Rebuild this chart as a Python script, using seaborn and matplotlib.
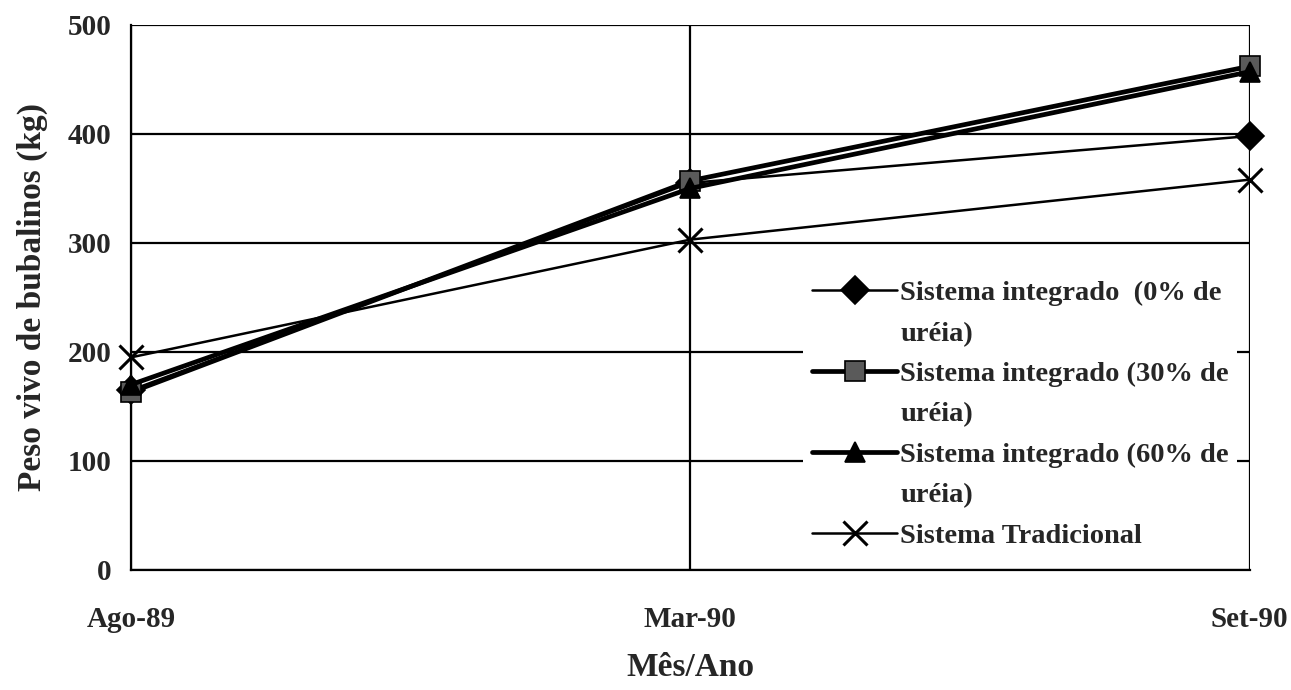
import matplotlib
matplotlib.use("Agg")
import matplotlib.pyplot as plt
from matplotlib.lines import Line2D
import seaborn as sns
import pandas as pd

sns.set_theme(style="white")
plt.rcParams['font.family'] = ['Liberation Serif', 'DejaVu Serif']
plt.rcParams['font.weight'] = 'bold'

meses = ["Ago-89", "Mar-90", "Set-90"]
integrado_0 = [165, 355, 398]
integrado_30 = [163, 357, 462]
integrado_60 = [170, 350, 457]
tradicional = [195, 303, 358]

# (first legend line, continuation line, values, marker, face colour, line width, marker size)
series = [
    ("Sistema integrado  (0% de", "uréia)", integrado_0, "D", "black", 1.8, 14),
    ("Sistema integrado (30% de", "uréia)", integrado_30, "s", "#5a5a5a", 3.4, 15),
    ("Sistema integrado (60% de", "uréia)", integrado_60, "^", "black", 3.4, 15),
    ("Sistema Tradicional", None, tradicional, "x", "black", 1.8, 17),
]

fig = plt.figure(figsize=(12.91, 6.90), dpi=100)
ax = fig.add_axes([0.1015, 0.174, 0.8665, 0.790])

for first, _, vals, mk, fc, lw, ms in series:
    df = pd.DataFrame({"x": range(len(meses)), "y": vals})
    sns.lineplot(data=df, x="x", y="y", ax=ax, color="black", linewidth=lw,
                 marker=mk, markersize=ms, markerfacecolor=fc,
                 markeredgecolor="black", markeredgewidth=2.2 if mk == "x" else 1.2,
                 label=first, zorder=3)

# markers sit on the plot edges; keep them whole
for line in ax.lines:
    line.set_clip_on(False)

ax.set_xlim(0, len(meses) - 1)
ax.set_ylim(0, 500)
ax.set_yticks(range(0, 501, 100))
ax.set_xticks(range(len(meses)))
ax.set_xticklabels(meses)

ax.grid(True, color="black", linewidth=1.6)
for s in ["top", "right"]:
    ax.spines[s].set_visible(False)
for s in ["left", "bottom"]:
    ax.spines[s].set_color("black")
    ax.spines[s].set_linewidth(1.6)

ax.tick_params(axis="both", which="both", direction="out", length=6, width=1.6,
               color="black", labelsize=21, pad=20)
ax.tick_params(axis="y", pad=8)
for t in ax.get_xticklabels() + ax.get_yticklabels():
    t.set_fontweight("bold")

ax.set_xlabel("Mês/Ano", fontsize=24, fontweight="bold", labelpad=14)
ax.set_ylabel("Peso vivo de bubalinos (kg)", fontsize=24, fontweight="bold", labelpad=14)

# Legend rows: each wrapped label continues on a row without a handle
handles, labels = ax.get_legend_handles_labels()
blank = Line2D([], [], color="none", marker=None)
leg_handles, leg_labels = [], []
for h, (first, cont, *_rest) in zip(handles, series):
    leg_handles.append(h)
    leg_labels.append(first)
    if cont:
        leg_handles.append(blank)
        leg_labels.append(cont)

leg = ax.legend(leg_handles, leg_labels, loc="upper left",
                bbox_to_anchor=(0.601, 0.547), frameon=True,
                fontsize=20.5, handlelength=3.0, handletextpad=0.1,
                labelspacing=0.51, borderpad=0.3, borderaxespad=0)
leg.get_frame().set_facecolor("white")
leg.get_frame().set_edgecolor("none")
leg.get_frame().set_alpha(1)
leg.set_zorder(2.5)
for t in leg.get_texts():
    t.set_fontweight("bold")

fig.savefig("out.png", dpi=100, facecolor="white")
